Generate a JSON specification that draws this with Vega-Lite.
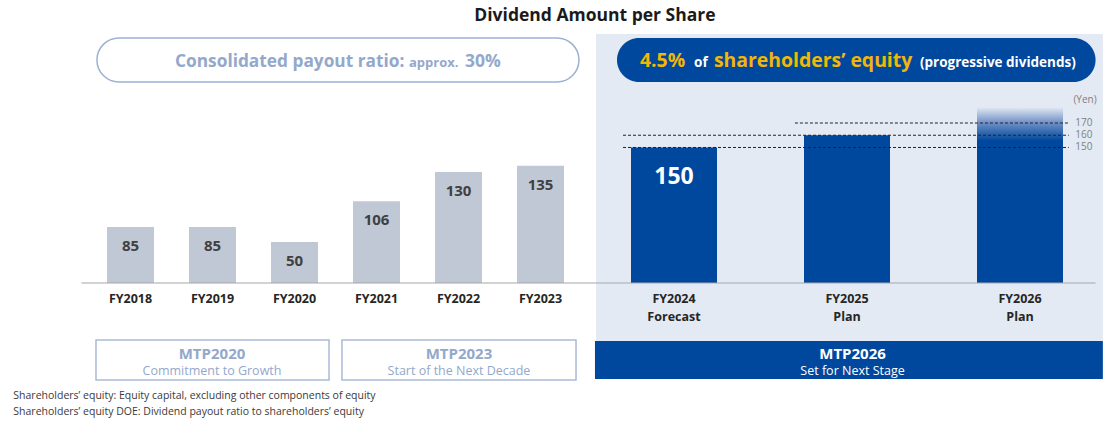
{
  "$schema": "https://vega.github.io/schema/vega-lite/v6.json",
  "width": 1113,
  "height": 421,
  "autosize": {"type": "fit", "contains": "padding"},
  "padding": 0,
  "background": "white",
  "config": {"view": {"stroke": null}, "font": "Open Sans", "text": {"font": "Open Sans"}},
  "datasets": {
    "bars": [
      {"fy": "FY2018", "x": 0, "y": 85, "v": "85", "sub": "", "g": "past"},
      {"fy": "FY2019", "x": 1, "y": 85, "v": "85", "sub": "", "g": "past"},
      {"fy": "FY2020", "x": 2, "y": 50, "v": "50", "sub": "", "g": "past"},
      {"fy": "FY2021", "x": 3, "y": 106, "v": "106", "sub": "", "g": "past"},
      {"fy": "FY2022", "x": 4, "y": 130, "v": "130", "sub": "", "g": "past"},
      {"fy": "FY2023", "x": 5, "y": 135, "v": "135", "sub": "", "g": "past"},
      {"fy": "FY2024", "x": 6, "y": 150, "v": "150", "sub": "Forecast", "g": "fut"},
      {"fy": "FY2025", "x": 7, "y": 160, "v": "", "sub": "Plan", "g": "fut"},
      {"fy": "FY2026", "x": 8, "y": 183, "v": "", "sub": "Plan", "g": "range"}
    ],
    "ann": [
      {"k": "panel", "x": 5.416, "x2": 8.52, "y": 242.7, "y2": -58},
      {"k": "pillL", "x": -0.421, "x2": 5.288, "y": 239.5, "y2": 203.5},
      {"k": "pillR", "x": 5.573, "x2": 8.474, "y": 239.5, "y2": 203.5},
      {"k": "boxL", "x": -0.433, "x2": 2.421, "y": -57, "y2": -97},
      {"k": "boxL", "x": 2.579, "x2": 5.266, "y": -57, "y2": -97},
      {"k": "boxR", "x": 5.408, "x2": 8.52, "y": -58, "y2": -96},
      {"k": "base", "x": -0.616, "x2": 8.474, "y": 0},
      {"k": "dash", "x": 5.618, "x2": 8.306, "y": 150},
      {"k": "dash", "x": 5.618, "x2": 8.306, "y": 160},
      {"k": "dash", "x": 6.699, "x2": 8.306, "y": 170},
      {"k": "tick", "x": 8.347, "y": 150, "t": "150"},
      {"k": "tick", "x": 8.347, "y": 160, "t": "160"},
      {"k": "tick", "x": 8.347, "y": 170, "t": "170"},
      {"k": "tick", "x": 8.335, "y": 188.8, "t": "(Yen)"},
      {"k": "title", "x": 5.408, "y": 257.5, "t": "Dividend Amount per Share"},
      {"k": "lbig", "x": 0.543, "y": 215.8, "t": "Consolidated payout ratio:"},
      {"k": "lbig2", "x": 4.079, "y": 215.8, "t": "30%"},
      {"k": "lsmall", "x": 3.396, "y": 215.8, "t": "approx."},
      {"k": "rbig", "x": 5.745, "y": 215.8, "t": "4.5%"},
      {"k": "rbig", "x": 6.231, "y": 215.8, "t": "shareholders’ equity"},
      {"k": "rsmall", "x": 6.116, "y": 215.8, "t": "of"},
      {"k": "rsmall", "x": 7.422, "y": 215.8, "t": "(progressive dividends)"},
      {"k": "mtp", "x": 0.994, "y": -71, "t": "MTP2020"},
      {"k": "mtp", "x": 4.006, "y": -71, "t": "MTP2023"},
      {"k": "mtpsub", "x": 0.994, "y": -88, "t": "Commitment to Growth"},
      {"k": "mtpsub", "x": 4.006, "y": -88, "t": "Start of the Next Decade"},
      {"k": "mtpR", "x": 7.032, "y": -71, "t": "MTP2026"},
      {"k": "mtpRsub", "x": 7.032, "y": -88, "t": "Set for Next Stage"},
      {"k": "note", "x": -1.47, "y": -113, "t": "Shareholders’ equity: Equity capital, excluding other components of equity"},
      {"k": "note", "x": -1.47, "y": -129, "t": "Shareholders’ equity DOE: Dividend payout ratio to shareholders’ equity"}
    ]
  },
  "encoding": {
    "x": {"field": "x", "type": "quantitative", "axis": null,
      "scale": {"domain": [-1.5915, 0, 5, 6, 8, 8.5376], "range": [0, 130.5, 540.5, 674, 1020, 1113], "nice": false, "zero": false}},
    "y": {"field": "y", "type": "quantitative", "axis": null,
      "scale": {"domain": [-138, 0, 50, 85, 170, 270.5], "range": [421, 283, 242, 227, 123, 0], "nice": false, "zero": false}}
  },
  "layer": [
    {"data": {"name": "ann"}, "transform": [{"filter": "datum.k === 'panel'"}],
      "mark": {"type": "rect", "color": "#e4eaf3"},
      "encoding": {"x2": {"field": "x2"}, "y2": {"field": "y2"}}},
    {"data": {"name": "ann"}, "transform": [{"filter": "datum.k === 'pillL'"}],
      "mark": {"type": "rect", "fill": "white", "stroke": "#9db1d3", "strokeWidth": 1.5, "cornerRadius": 22},
      "encoding": {"x2": {"field": "x2"}, "y2": {"field": "y2"}}},
    {"data": {"name": "ann"}, "transform": [{"filter": "datum.k === 'pillR'"}],
      "mark": {"type": "rect", "fill": "#00489d", "cornerRadius": 22},
      "encoding": {"x2": {"field": "x2"}, "y2": {"field": "y2"}}},
    {"data": {"name": "ann"}, "transform": [{"filter": "datum.k === 'boxL'"}],
      "mark": {"type": "rect", "fill": "white", "stroke": "#a9bad6", "strokeWidth": 1.5},
      "encoding": {"x2": {"field": "x2"}, "y2": {"field": "y2"}}},
    {"data": {"name": "ann"}, "transform": [{"filter": "datum.k === 'boxR'"}],
      "mark": {"type": "rect", "fill": "#00489d"},
      "encoding": {"x2": {"field": "x2"}, "y2": {"field": "y2"}}},
    {"data": {"name": "bars"}, "transform": [{"filter": "datum.g === 'past'"}],
      "mark": {"type": "bar", "orient": "vertical", "width": 47, "color": "#c1c8d5"},
      "encoding": {"y2": {"datum": 0}}},
    {"data": {"name": "bars"}, "transform": [{"filter": "datum.g === 'fut'"}],
      "mark": {"type": "bar", "orient": "vertical", "width": 86, "color": "#00489d"},
      "encoding": {"y2": {"datum": 0}}},
    {"data": {"name": "bars"}, "transform": [{"filter": "datum.g === 'range'"}],
      "mark": {"type": "bar", "orient": "vertical", "width": 86,
        "color": {"gradient": "linear", "x1": 0, "y1": 0, "x2": 0, "y2": 1,
          "stops": [{"offset": 0, "color": "#e4eaf3"}, {"offset": 0.09, "color": "#6d8fc6"}, {"offset": 0.19, "color": "#00489d"}, {"offset": 1, "color": "#00489d"}]}},
      "encoding": {"y2": {"datum": 0}}},
    {"data": {"name": "ann"}, "transform": [{"filter": "datum.k === 'base'"}],
      "mark": {"type": "rule", "color": "#a6a6a6", "strokeWidth": 1},
      "encoding": {"x2": {"field": "x2"}}},
    {"data": {"name": "ann"}, "transform": [{"filter": "datum.k === 'dash'"}],
      "mark": {"type": "rule", "color": "#222222", "strokeWidth": 1, "strokeDash": [3, 2]},
      "encoding": {"x2": {"field": "x2"}}},
    {"data": {"name": "ann"}, "transform": [{"filter": "datum.k === 'tick'"}],
      "mark": {"type": "text", "align": "left", "baseline": "middle", "fontSize": 10, "color": "#808080"},
      "encoding": {"text": {"field": "t"}}},
    {"data": {"name": "bars"}, "transform": [{"filter": "datum.g === 'past'"}],
      "mark": {"type": "text", "baseline": "middle", "dy": 19, "fontSize": 15, "fontWeight": "bold", "color": "#404040"},
      "encoding": {"text": {"field": "v"}}},
    {"data": {"name": "bars"}, "transform": [{"filter": "datum.fy === 'FY2024'"}],
      "mark": {"type": "text", "baseline": "middle", "dy": 30, "fontSize": 23, "fontWeight": "bold", "color": "white"},
      "encoding": {"text": {"field": "v"}}},
    {"data": {"name": "bars"},
      "mark": {"type": "text", "baseline": "middle", "fontSize": 12.5, "fontWeight": "bold", "color": "#262626"},
      "encoding": {"y": {"datum": -16}, "text": {"field": "fy"}}},
    {"data": {"name": "bars"},
      "mark": {"type": "text", "baseline": "middle", "fontSize": 12.5, "fontWeight": "bold", "color": "#262626"},
      "encoding": {"y": {"datum": -34}, "text": {"field": "sub"}}},
    {"data": {"name": "ann"}, "transform": [{"filter": "datum.k === 'title'"}],
      "mark": {"type": "text", "baseline": "middle", "fontSize": 17.5, "fontWeight": "bold", "color": "#1a1a1a"},
      "encoding": {"text": {"field": "t"}}},
    {"data": {"name": "ann"}, "transform": [{"filter": "datum.k === 'lbig'"}],
      "mark": {"type": "text", "align": "left", "baseline": "alphabetic", "fontSize": 17.3, "fontWeight": "bold", "color": "#93a8cb"},
      "encoding": {"text": {"field": "t"}}},
    {"data": {"name": "ann"}, "transform": [{"filter": "datum.k === 'lbig2'"}],
      "mark": {"type": "text", "align": "left", "baseline": "alphabetic", "fontSize": 17.5, "fontWeight": "bold", "color": "#93a8cb"},
      "encoding": {"text": {"field": "t"}}},
    {"data": {"name": "ann"}, "transform": [{"filter": "datum.k === 'lsmall'"}],
      "mark": {"type": "text", "align": "left", "baseline": "alphabetic", "fontSize": 13, "fontWeight": "bold", "color": "#93a8cb"},
      "encoding": {"text": {"field": "t"}}},
    {"data": {"name": "ann"}, "transform": [{"filter": "datum.k === 'rbig'"}],
      "mark": {"type": "text", "align": "left", "baseline": "alphabetic", "fontSize": 19.4, "fontWeight": "bold", "color": "#f2b705"},
      "encoding": {"text": {"field": "t"}}},
    {"data": {"name": "ann"}, "transform": [{"filter": "datum.k === 'rsmall'"}],
      "mark": {"type": "text", "align": "left", "baseline": "alphabetic", "fontSize": 13.5, "fontWeight": "bold", "color": "white"},
      "encoding": {"text": {"field": "t"}}},
    {"data": {"name": "ann"}, "transform": [{"filter": "datum.k === 'mtp'"}],
      "mark": {"type": "text", "baseline": "middle", "fontSize": 15, "fontWeight": "bold", "color": "#93a8cb"},
      "encoding": {"text": {"field": "t"}}},
    {"data": {"name": "ann"}, "transform": [{"filter": "datum.k === 'mtpsub'"}],
      "mark": {"type": "text", "baseline": "middle", "fontSize": 12.5, "color": "#93a8cb"},
      "encoding": {"text": {"field": "t"}}},
    {"data": {"name": "ann"}, "transform": [{"filter": "datum.k === 'mtpR'"}],
      "mark": {"type": "text", "baseline": "middle", "fontSize": 15, "fontWeight": "bold", "color": "white"},
      "encoding": {"text": {"field": "t"}}},
    {"data": {"name": "ann"}, "transform": [{"filter": "datum.k === 'mtpRsub'"}],
      "mark": {"type": "text", "baseline": "middle", "fontSize": 12.5, "color": "white"},
      "encoding": {"text": {"field": "t"}}},
    {"data": {"name": "ann"}, "transform": [{"filter": "datum.k === 'note'"}],
      "mark": {"type": "text", "align": "left", "baseline": "middle", "fontSize": 10.5, "color": "#3a3a3a"},
      "encoding": {"text": {"field": "t"}}}
  ]
}
